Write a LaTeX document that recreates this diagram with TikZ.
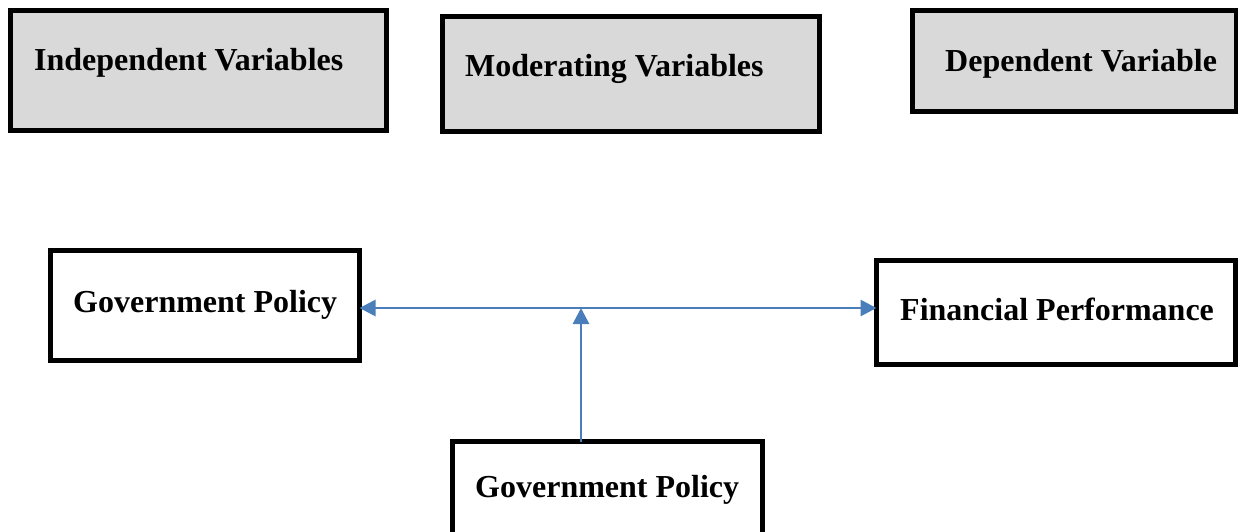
\documentclass[tikz,border=0pt]{standalone}
\usepackage{fontspec}
\setmainfont{Liberation Serif}
\usetikzlibrary{arrows.meta}
\definecolor{linkblue}{HTML}{4A7EBB}
\definecolor{headgray}{HTML}{D9D9D9}
\tikzset{
    varbox/.style={draw,line width=4.5pt,inner sep=0pt,outer sep=0pt},
    headbox/.style={varbox,fill=headgray},
    boxtext/.style={anchor=base west,inner sep=0pt,font=\fontsize{32}{38}\selectfont\bfseries},
    link/.style={draw=linkblue,line width=2.8pt},
    bluehead/.tip={Triangle[length=16pt,width=16pt]}
}

\begin{document}
\begin{tikzpicture}[x=1pt,y=-1pt]
    \useasboundingbox (0,0) rectangle (1244,531);
    \node[headbox,minimum width=376pt,minimum height=120pt] (indep) at (198.5,70.5) {};
    \node[headbox,minimum width=377pt,minimum height=115pt] (moder) at (631,74) {};
    \node[headbox,minimum width=323.5pt,minimum height=101pt] (depen) at (1074.25,61) {};
    \node[boxtext] (indep-t) at (34,70) {Independent Variables};
    \node[boxtext] (moder-t) at (465,76) {Moderating Variables};
    \node[boxtext] (depen-t) at (945,71) {Dependent Variable};

    \node[varbox,minimum width=309pt,minimum height=110pt] (policy) at (205,305.5) {};
    \node[varbox,minimum width=359pt,minimum height=104pt] (perf) at (1056,312.5) {};
    \node[varbox,minimum width=310pt,minimum height=120pt] (modpolicy) at (607.5,501.5) {};
    \node[boxtext] (policy-t) at (73,312) {Government Policy};
    \node[boxtext] (perf-t) at (900,320) {Financial Performance};
    \node[boxtext] (modpolicy-t) at (475,497) {Government Policy};

    \coordinate (mid) at (581,308);
    \draw[link,bluehead-bluehead] (policy.east |- mid) -- (perf.west |- mid);
    \draw[link,-bluehead] (modpolicy.north -| mid) -- (mid);
\end{tikzpicture}
\end{document}
